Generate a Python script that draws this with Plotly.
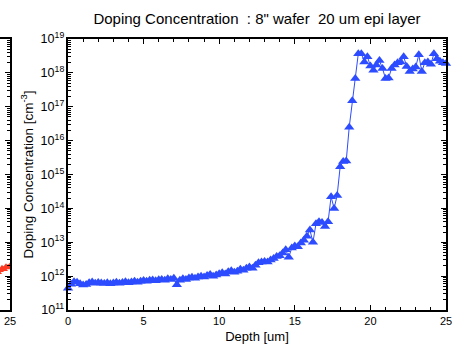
import plotly.graph_objects as go

# ---- main chart data (blue) ----
depth_um = [
    0.0, 0.2, 0.4, 0.6, 0.8, 1.0, 1.2, 1.4, 1.6, 1.8,
    2.0, 2.2, 2.4, 2.6, 2.8, 3.0, 3.2, 3.4, 3.6, 3.8,
    4.0, 4.2, 4.4, 4.6, 4.8, 5.0, 5.2, 5.4, 5.6, 5.8,
    6.0, 6.2, 6.4, 6.6, 6.8, 7.0, 7.2, 7.4, 7.6, 7.8,
    8.0, 8.2, 8.4, 8.6, 8.8, 9.0, 9.2, 9.4, 9.6, 9.8,
    10.0, 10.2, 10.4, 10.6, 10.8, 11.0, 11.2, 11.4, 11.6, 11.8,
    12.0, 12.2, 12.4, 12.6, 12.8, 13.0, 13.2, 13.4, 13.6, 13.8,
    14.0, 14.2, 14.4, 14.6, 14.8, 15.0, 15.2, 15.4, 15.6, 15.8,
    16.0, 16.2, 16.4, 16.6, 16.8, 17.0, 17.2, 17.4, 17.6, 17.8,
    18.0, 18.2, 18.4, 18.6, 18.8, 19.0, 19.2, 19.4, 19.6, 19.8,
    20.0, 20.2, 20.4, 20.6, 20.8, 21.0, 21.2, 21.4, 21.6, 21.8,
    22.0, 22.2, 22.4, 22.6, 22.8, 23.0, 23.2, 23.4, 23.6, 23.8,
    24.0, 24.2, 24.4, 24.6, 24.8, 25.0,
]
doping_cm3 = [
    4.4e11, 5.8e11, 6.8e11, 6.6e11, 6.0e11, 5.5e11, 5.7e11, 6.4e11, 6.7e11, 6.2e11,
    6.5e11, 6.3e11, 6.1e11, 6.4e11, 6.0e11, 6.3e11, 6.6e11, 6.2e11, 6.5e11, 6.8e11,
    6.4e11, 6.7e11, 7.0e11, 6.6e11, 7.1e11, 7.4e11, 7.1e11, 7.5e11, 7.7e11, 7.3e11,
    7.8e11, 8.0e11, 7.6e11, 8.3e11, 8.0e11, 8.6e11, 5.6e11, 7.5e11, 8.4e11, 8.0e11,
    8.8e11, 9.2e11, 8.6e11, 9.4e11, 1.0e12, 9.4e11, 1.05e12, 1.12e12, 1.0e12, 1.08e12,
    1.18e12, 1.25e12, 1.15e12, 1.35e12, 1.45e12, 1.3e12, 1.4e12, 1.6e12, 1.5e12, 1.7e12,
    1.85e12, 1.7e12, 2.1e12, 2.5e12, 2.6e12, 2.7e12, 2.6e12, 3.0e12, 3.3e12, 3.8e12,
    4.0e12, 4.8e12, 6.0e12, 3.6e12, 6.8e12, 7.8e12, 7.4e12, 9.5e12, 1.15e13, 1.5e13,
    2.3e13, 1.0e13, 3.5e13, 4.0e13, 3.8e13, 2.9e13, 4.0e13, 2.2e14, 1.0e14, 2.4e14,
    1.7e15, 2.4e15, 2.5e15, 2.5e16, 1.5e17, 6.8e17, 3.7e18, 3.7e18, 2.1e18, 3.0e18,
    1.6e18, 1.2e18, 1.7e18, 2.3e18, 1.35e18, 6.8e17, 7.0e17, 1.35e18, 1.7e18, 2.0e18,
    2.1e18, 3.0e18, 1.55e18, 1.1e18, 1.3e18, 1.5e18, 3.4e18, 1.1e18, 2.0e18, 2.1e18,
    1.8e18, 3.7e18, 2.6e18, 2.2e18, 2.0e18, 1.9e18,
]

# ---- neighbouring (cut-off) chart data (red) ----
left_depth_um = [24.4, 24.5, 24.6, 24.7, 24.8, 24.9, 25.0]
left_doping_cm3 = [1.3e12, 1.5e12, 1.7e12, 1.6e12, 1.9e12, 1.8e12, 2.0e12]

title_text = 'Doping Concentration  : 8" wafer  20 um epi layer'
x_title = "Depth [um]"
y_title = "Doping Concentration [cm<sup>-3</sup>]"

W, H = 455, 353
ML, MR, MT, MB = 0, 9, 39, 43
plot_w = W - ML - MR
main_x0 = 68 / plot_w
left_x1 = 10 / plot_w

FONT = "Liberation Sans, Arial, sans-serif"
BLUE = "#2d4cff"
RED = "#ff3a22"

fig = go.Figure()
fig.add_trace(go.Scatter(
    x=depth_um, y=doping_cm3, mode="lines+markers",
    line=dict(color=BLUE, width=1),
    marker=dict(symbol="triangle-up", size=9, color=BLUE),
    cliponaxis=False, showlegend=False,
))
fig.add_trace(go.Scatter(
    x=left_depth_um, y=left_doping_cm3, mode="lines+markers",
    line=dict(color=RED, width=1),
    marker=dict(symbol="triangle-up", size=7, color=RED),
    xaxis="x2", yaxis="y2", showlegend=False,
))

common_axis = dict(
    showline=True, linecolor="black", linewidth=1.5,
    ticks="inside", tickcolor="black", ticklen=5, tickwidth=1,
    showgrid=False, zeroline=False,
)
xfont = dict(family=FONT, size=11, color="black")
yfont = dict(family=FONT, size=10, color="black")

fig.update_layout(
    width=W, height=H,
    margin=dict(l=ML, r=MR, t=MT, b=MB, autoexpand=False),
    paper_bgcolor="white", plot_bgcolor="white",
    font=dict(family=FONT, color="black"),
    title=dict(text=title_text, x=(68 + 446) / 2 / W, xanchor="center",
               y=1 - 19 / H, yanchor="middle",
               font=dict(family=FONT, size=15, color="black")),
    xaxis=dict(
        domain=[main_x0, 1], range=[0, 25], anchor="y",
        tickmode="linear", tick0=0, dtick=5, mirror="ticks",
        minor=dict(dtick=1, ticks="inside", ticklen=3, tickcolor="black"),
        tickfont=xfont,
        title=dict(text=x_title, font=dict(family=FONT, size=13), standoff=6),
        **common_axis,
    ),
    yaxis=dict(
        type="log", range=[11, 19], anchor="x",
        dtick=1, exponentformat="power", mirror="ticks",
        minor=dict(dtick="D1", ticks="inside", ticklen=3, tickcolor="black"),
        tickfont=yfont,
        title=dict(text=y_title, font=dict(family=FONT, size=13.5), standoff=4),
        **common_axis,
    ),
    xaxis2=dict(
        domain=[0, left_x1], range=[24.5, 25], anchor="y2",
        tickmode="array", tickvals=[25], ticktext=["25"], mirror="ticks",
        tickfont=xfont,
        **common_axis,
    ),
    yaxis2=dict(
        type="log", range=[11, 19], anchor="x2", side="right",
        dtick=1, showticklabels=False,
        minor=dict(dtick="D1", ticks="inside", ticklen=3, tickcolor="black"),
        **common_axis,
    ),
)

fig.write_html("out.html", config={"displayModeBar": False},
               post_script="document.body.style.margin='0';")
